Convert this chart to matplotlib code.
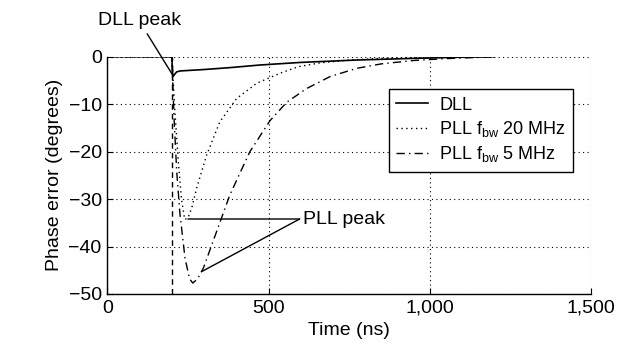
import matplotlib
matplotlib.use("Agg")
import matplotlib.pyplot as plt
from matplotlib.ticker import FuncFormatter

plt.rcParams["font.family"] = ["Liberation Sans", "DejaVu Sans"]
plt.rcParams["mathtext.fontset"] = "custom"
plt.rcParams["mathtext.rm"] = "Liberation Sans"

# DLL
t_dll = [0, 200, 203, 215, 226, 300, 380, 473, 600, 773, 950, 1100, 1200]
e_dll = [0, 0, -4.2, -3.2, -3.0, -2.7, -2.3, -1.75, -1.2, -0.7, -0.35, -0.1, 0]

# PLL fbw 20 MHz
t_pll20 = [0, 200, 210, 220, 230, 240, 250, 262, 277, 308, 349, 401, 463,
           535, 592, 660, 750, 850, 950, 1050, 1200]
e_pll20 = [0, 0, -12, -22, -30, -34.3, -34.0, -31.8, -27.7, -20.7, -13.7, -8.8,
           -5.6, -3.5, -2.1, -1.3, -0.7, -0.35, -0.2, -0.1, 0]

# PLL fbw 5 MHz
t_pll5 = [0, 200, 207, 215, 225, 241, 255, 265, 280, 298, 339, 380, 442, 504,
          556, 618, 690, 773, 850, 950, 1050, 1150, 1200]
e_pll5 = [0, 0, -13, -24, -33, -42.5, -46.8, -47.7, -46.8, -44.5, -36.8, -29.1,
          -20, -13.5, -9.6, -6.7, -4.2, -2.45, -1.5, -0.8, -0.4, -0.15, 0]

t_step = 200

fig = plt.figure(figsize=(6.19, 3.58), dpi=100)
ax = fig.add_axes([0.1733, 0.1788, 0.7820, 0.6628])

ax.plot(t_dll, e_dll, color="black", lw=1.2, ls="-", label="DLL")
ax.plot(t_pll20, e_pll20, color="black", lw=1.0, ls=(0, (1, 2.5)),
        label=r"PLL f$_\mathregular{bw}$ 20 MHz")
ax.plot(t_pll5, e_pll5, color="black", lw=1.0, ls=(0, (6, 3, 1, 3)),
        label=r"PLL f$_\mathregular{bw}$ 5 MHz")
ax.axvline(t_step, color="black", lw=1.0, ls=(0, (4, 3)))

ax.set_xlim(0, 1500)
ax.set_ylim(-50, 0)
ax.set_xticks([0, 500, 1000, 1500])
ax.set_yticks([-50, -40, -30, -20, -10, 0])
ax.xaxis.set_major_formatter(FuncFormatter(lambda v, p: f"{int(v):,}"))
ax.tick_params(direction="in", length=4, width=0.8, labelsize=14, pad=4)
ax.grid(True, color="black", ls=(0, (1, 3)), lw=0.8)
for s in ["top", "right"]:
    ax.spines[s].set_visible(False)
for s in ["left", "bottom"]:
    ax.spines[s].set_linewidth(1.0)

ax.set_xlabel("Time (ns)", fontsize=14)
ax.set_ylabel("Phase error (degrees)", fontsize=14)

leg = ax.legend(loc="upper right", bbox_to_anchor=(0.9628, 0.8626),
                borderaxespad=0, fontsize=13, frameon=True, fancybox=False,
                edgecolor="black", framealpha=1, labelspacing=0.3,
                handlelength=1.8, handletextpad=0.6, borderpad=0.4)
leg.get_frame().set_linewidth(1.0)

ax.annotate("DLL peak", xy=(203, -3.9), xytext=(101, 7.7), fontsize=14,
            ha="center", va="center", annotation_clip=False,
            arrowprops=dict(arrowstyle="-", color="black", lw=1.0,
                            shrinkA=2, shrinkB=0, relpos=(0.55, 0)))
ax.text(608, -34.2, "PLL peak", fontsize=14, ha="left", va="center")
ax.annotate("", xy=(250, -34.2), xytext=(596, -34.2),
            arrowprops=dict(arrowstyle="-", color="black", lw=1.0,
                            shrinkA=0, shrinkB=0))
ax.annotate("", xy=(292, -45.3), xytext=(596, -34.2),
            arrowprops=dict(arrowstyle="-", color="black", lw=1.0,
                            shrinkA=0, shrinkB=0))

fig.savefig("out.png", dpi=100)
